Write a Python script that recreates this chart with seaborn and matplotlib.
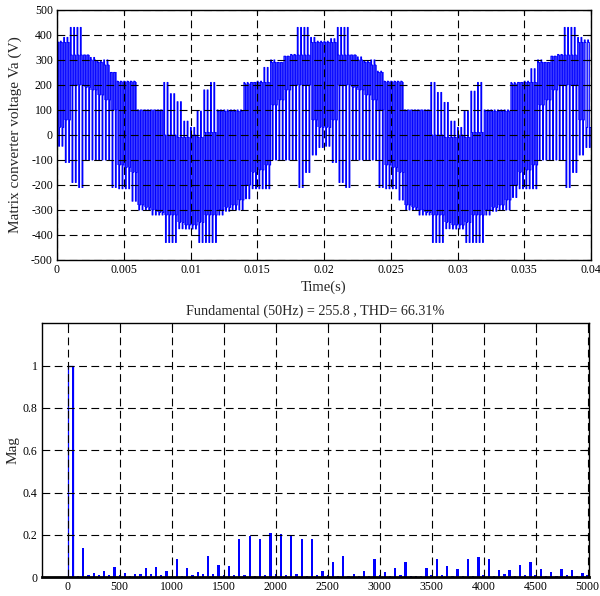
import numpy as np
import pandas as pd
import matplotlib
matplotlib.use("Agg")
import matplotlib.pyplot as plt
import seaborn as sns

# ---------------- data ----------------
# Top: output phase voltage, 0.5 ms switching intervals (80 intervals over 0.04 s)
t_start = 0.0
t_stop = 0.04
n_intervals = 80
# upper envelope (max per interval), V
v_hi = [375, 390, 430, 430, 320, 310, 295, 300, 250, 215,
        215, 215, 100, 100, 100, 100, 210, 165, 133, 55,
        30, 95, 180, 210, 100, 100, 100, 100, 210, 210,
        215, 270, 300, 290, 315, 322, 430, 430, 390, 375,
        375, 385, 430, 430, 320, 312, 295, 300, 255, 215,
        215, 215, 100, 100, 100, 100, 210, 170, 130, 55,
        30, 95, 175, 210, 100, 100, 100, 100, 210, 210,
        215, 265, 300, 290, 315, 322, 430, 430, 390, 380]
# lower envelope (min per interval), V
v_lo = [-45, -110, -190, -210, -100, -100, -100, -100, -210, -215,
        -215, -265, -300, -300, -320, -320, -430, -430, -375, -376,
        -376, -430, -430, -430, -320, -305, -300, -300, -255, -215,
        -215, -215, -100, -100, -100, -100, -210, -150, -80, -50,
        -45, -110, -190, -210, -100, -100, -100, -100, -210, -215,
        -215, -260, -300, -300, -320, -320, -430, -430, -375, -376,
        -376, -430, -430, -430, -320, -305, -300, -300, -250, -215,
        -215, -215, -100, -100, -100, -100, -210, -150, -80, -50]
# dense band (most switching states) top / bottom, V
band_top = [370, 370, 320, 320, 320, 300, 290, 280, 250, 213,
            213, 213, 100, 100, 100, 100, 0, 0, -10, -10,
            0, -10, 10, 10, 95, 95, 95, 95, 205, 210,
            210, 210, 290, 290, 315, 320, 320, 320, 370, 370,
            370, 370, 320, 320, 320, 300, 290, 280, 250, 213,
            213, 213, 100, 100, 100, 100, 0, 0, -10, -10,
            0, -10, 10, 10, 95, 95, 95, 95, 205, 210,
            210, 210, 290, 290, 315, 320, 320, 320, 370, 370]
band_bot = [30, 60, 200, 200, 190, 180, 160, 140, 100, -120,
            -130, -150, -280, -290, -300, -310, -320, -320, -350, -360,
            -360, -350, -320, -320, -300, -290, -280, -260, -200, -150,
            -140, -120, 120, 140, 180, 200, 200, 200, 60, 30,
            30, 60, 200, 200, 190, 180, 160, 140, 100, -120,
            -130, -150, -280, -290, -300, -310, -320, -320, -350, -360,
            -360, -350, -320, -320, -300, -290, -280, -260, -200, -150,
            -140, -120, 120, 140, 180, 200, 200, 200, 60, 30]

# Bottom: FFT spectrum, harmonics every 50 Hz from 0 to 5000 Hz
fund_freq = 50
fund_mag = 1.0
spec_step = 50
spec_mag = [0.0, 1.0, 0.008, 0.14, 0.01, 0.02, 0.01, 0.03, 0.01, 0.05,
            0.012, 0.02, 0.006, 0.016, 0.017, 0.045, 0.016, 0.05, 0.01, 0.03,
            0.005, 0.085, 0.008, 0.045, 0.01, 0.027, 0.015, 0.10, 0.015, 0.058,
            0.01, 0.053, 0.01, 0.18, 0.012, 0.197, 0.008, 0.18, 0.01, 0.208,
            0.015, 0.205, 0.01, 0.20, 0.015, 0.18, 0.005, 0.18, 0.01, 0.03,
            0.01, 0.07, 0.005, 0.10, 0.005, 0.016, 0.008, 0.03, 0.008, 0.085,
            0.01, 0.027, 0.005, 0.045, 0.01, 0.074, 0.005, 0.005, 0.006, 0.045,
            0.01, 0.085, 0.01, 0.055, 0.005, 0.04, 0.005, 0.085, 0.005, 0.098,
            0.01, 0.085, 0.008, 0.035, 0.015, 0.035, 0.005, 0.058, 0.01, 0.07,
            0.01, 0.04, 0.008, 0.027, 0.008, 0.04, 0.01, 0.035, 0.005, 0.018,
            0.01]
title_text = "Fundamental (50Hz) = 255.8 , THD= 66.31%"
top_ylabel = "Matrix converter voltage Va (V)"
top_xlabel = "Time(s)"
bot_ylabel = "Mag"
top_xticks = [0, 0.005, 0.01, 0.015, 0.02, 0.025, 0.03, 0.035, 0.04]
top_xticklabels = ["0", "0.005", "0.01", "0.015", "0.02", "0.025", "0.03", "0.035", "0.04"]
top_yticks = list(range(-500, 501, 100))
bot_xticks = list(range(0, 5001, 500))
bot_yticks = [0, 0.2, 0.4, 0.6, 0.8, 1]
bot_yticklabels = ["0", "0.2", "0.4", "0.6", "0.8", "1"]

# ---------------- styling ----------------
sns.set_style("white")
plt.rcParams["font.family"] = ["Liberation Serif", "DejaVu Serif"]
plt.rcParams["axes.unicode_minus"] = False
blue = "#0000ff"

fig = plt.figure(figsize=(6.0, 5.96), dpi=100)
ax1 = fig.add_axes([0.095, 0.5638, 0.89, 0.4195])
ax2 = fig.add_axes([0.0695, 0.0314, 0.912, 0.4261])

# ---------------- top waveform ----------------
edges = np.linspace(t_start, t_stop, n_intervals + 1)
dt = edges[1] - edges[0]
n_sub = 8
tt, vv = [], []
for k in range(n_intervals):
    levels = [v_hi[k], band_top[k], v_lo[k], band_bot[k]] * 2
    for j, L in enumerate(levels):
        s = edges[k] + dt * j / n_sub
        e = edges[k] + dt * (j + 1) / n_sub
        tt += [s, e]
        vv += [L, L]
wave = pd.DataFrame({"t": tt, "v": vv})

ax1.fill_between(edges[:-1], band_bot, band_top, step="post",
                 color="#6262ff", lw=0, zorder=1)
sns.lineplot(data=wave, x="t", y="v", sort=False, estimator=None,
             color=blue, lw=0.75, ax=ax1, zorder=2)

ax1.set_xlim(t_start, t_stop)
ax1.set_ylim(-500, 500)
ax1.set_xticks(top_xticks)
ax1.set_xticklabels(top_xticklabels)
ax1.set_yticks(top_yticks)
ax1.set_xlabel(top_xlabel, fontsize=10.5, labelpad=3)
ax1.set_ylabel(top_ylabel, fontsize=11)
ax1.yaxis.set_label_coords(-0.066, 0.5)

# ---------------- bottom spectrum ----------------
freqs = np.arange(len(spec_mag)) * spec_step
spec = pd.DataFrame({"f": freqs, "m": spec_mag})
sns.barplot(data=spec, x="f", y="m", native_scale=True, color=blue,
            saturation=1, width=0.45, errorbar=None, linewidth=0, ax=ax2, zorder=2)
ax2.bar(0, fund_mag, width=fund_freq, align="edge", fill=False,
        edgecolor=blue, lw=0.9, zorder=2)

ax2.set_xlim(-250, 5012)
ax2.set_ylim(0, 1.2)
ax2.set_xticks(bot_xticks)
ax2.set_xticklabels([str(x) for x in bot_xticks])
ax2.set_yticks(bot_yticks)
ax2.set_yticklabels(bot_yticklabels)
ax2.set_xlabel("")
ax2.set_ylabel(bot_ylabel, fontsize=11)
ax2.yaxis.set_label_coords(-0.040, 0.5)
ax2.set_title(title_text, fontsize=10.2, pad=6)

for ax in (ax1, ax2):
    ax.grid(True, color="black", linestyle=(0, (7, 4)), lw=0.8, zorder=3)
    ax.set_axisbelow(False)
    for sp in ax.spines.values():
        sp.set_color("black")
        sp.set_linewidth(1.0)
    ax.tick_params(direction="in", length=3, width=0.8, pad=3,
                   colors="black", top=True, right=True)
    for lbl in ax.get_xticklabels() + ax.get_yticklabels():
        lbl.set_fontsize(8.5)
ax2.spines["bottom"].set_linewidth(2.0)

fig.savefig("out.png", dpi=100)
